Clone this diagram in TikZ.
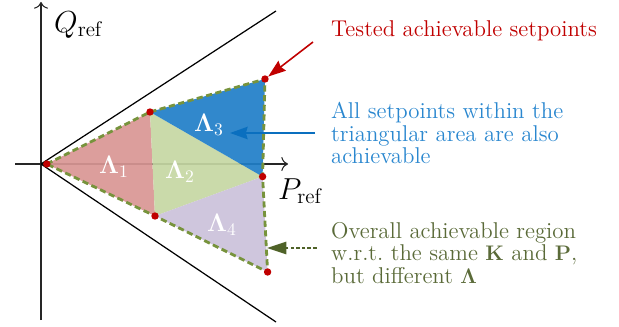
\documentclass[tikz,border=0pt]{standalone}
\usepackage{amsmath,amssymb,bm}
\usepackage{tikz}
\usetikzlibrary{arrows.meta}
\usepackage{xcolor}
\definecolor{SetRed}{HTML}{C00000}
\definecolor{SetBlue}{HTML}{2A87CF}
\definecolor{ArrowBlue}{HTML}{0A6FBF}
\definecolor{RegionGreen}{HTML}{77933C}
\definecolor{NoteGreen}{HTML}{5A6A38}
\definecolor{TipGreen}{HTML}{4F6228}
\definecolor{LamOne}{HTML}{D99694}
\definecolor{LamTwo}{HTML}{C6D7A3}
\definecolor{LamThree}{HTML}{1F7EC8}
\definecolor{LamFour}{HTML}{CBC1DA}

\tikzset{
  axisline/.style={line width=0.6pt,-{To[scale=1.3]}},
  coneline/.style={line width=0.7pt},
  lamfill/.style={fill opacity=0.92},
  lamlabel/.style={text=white,font=\fontsize{14.5}{14.5}\selectfont},
  axislabel/.style={font=\fontsize{17.5}{17.5}\selectfont},
  setdot/.style={circle,fill=SetRed,inner sep=0pt,minimum size=4.2pt},
  regionline/.style={RegionGreen,line width=1.6pt,dash pattern=on 3.5pt off 2pt},
}

\begin{document}
\begin{tikzpicture}[>=Stealth,x=0.4cm,y=0.4cm,font=\fontsize{13}{13}\selectfont]
  \useasboundingbox (-2.05,-8.15) rectangle (28.9,8.2);
  \coordinate (p0) at (0.29,0);
  \coordinate (a) at (5.45,2.6);
  \coordinate (b) at (11.2,4.25);
  \coordinate (c) at (11.08,-0.63);
  \coordinate (d) at (5.7,-2.6);
  \coordinate (e) at (11.33,-5.4);
  \coordinate (xstart) at (-1.3,0);
  \coordinate (xend) at (12.35,0);
  \coordinate (ystart) at (0,-7.8);
  \coordinate (yend) at (0,8.1);
  \coordinate (apex) at (0,0);
  \coordinate (coneup) at (11.75,7.65);
  \coordinate (conedown) at (11.75,-7.9);
  \draw[axisline,black!85] (xstart) -- (xend);
  \draw[axisline,black!85] (ystart) -- (yend);
  \draw[coneline] (apex) -- (coneup);
  \draw[coneline] (apex) -- (conedown);
  \node[axislabel,anchor=west] (qlabel) at (0.35,6.95) {$Q_{\mathrm{ref}}$};
  \node[axislabel,anchor=west] (plabel) at (11.55,-1.35) {$P_{\mathrm{ref}}$};
  \fill[lamfill,LamOne] (p0) -- (a) -- (d) -- cycle;
  \fill[lamfill,LamTwo] (a) -- (c) -- (d) -- cycle;
  \fill[lamfill,LamThree] (a) -- (b) -- (c) -- cycle;
  \fill[lamfill,LamFour] (d) -- (c) -- (e) -- cycle;
  \draw[regionline] (p0) -- (a) -- (b) -- (c) -- (e) -- (d) -- cycle;
  \node[lamlabel] (lam1) at (3.65,-0.15) {$\bm{\Lambda}_1$};
  \node[lamlabel] (lam2) at (6.95,-0.4) {$\bm{\Lambda}_2$};
  \node[lamlabel] (lam3) at (8.4,1.95) {$\bm{\Lambda}_3$};
  \node[lamlabel] (lam4) at (9.05,-3.05) {$\bm{\Lambda}_4$};
  \node[setdot] (dp0) at (p0) {};
  \node[setdot] (da) at (a) {};
  \node[setdot] (db) at (b) {};
  \node[setdot] (dc) at (c) {};
  \node[setdot] (dd) at (d) {};
  \node[setdot] (de) at (e) {};
  \node[anchor=west,SetRed] (tested) at (14.2,6.65) {Tested achievable setpoints};
  \node[anchor=west,align=left,SetBlue] (within) at (14.2,1.55)
    {All setpoints within the\\triangular area are also\\achievable};
  \node[anchor=west,align=left,NoteGreen] (overall) at (14.2,-4.45)
    {Overall achievable region\\w.r.t.\ the same $\mathbf{K}$ and $\mathbf{P}$,\\but different $\bm{\Lambda}$};
  \coordinate (redtail) at (13.6,6.1);
  \coordinate (bluetail) at (13.7,1.55);
  \coordinate (bluehead) at (9.45,1.55);
  \coordinate (greentail) at (13.78,-4.2);
  \coordinate (greenhead) at (11.3,-4.2);
  \draw[-{Stealth[length=10pt,width=7pt,inset=1pt]},SetRed,line width=0.9pt] (redtail) -- (db);
  \draw[-{Stealth[length=10pt,width=7pt,inset=1pt]},ArrowBlue,line width=1.1pt] (bluetail) -- (bluehead);
  \draw[-{Stealth[length=11pt,width=7pt,inset=0pt]},TipGreen,line width=1.1pt,dash pattern=on 2pt off 1.2pt] (greentail) -- (greenhead);
\end{tikzpicture}
\end{document}
